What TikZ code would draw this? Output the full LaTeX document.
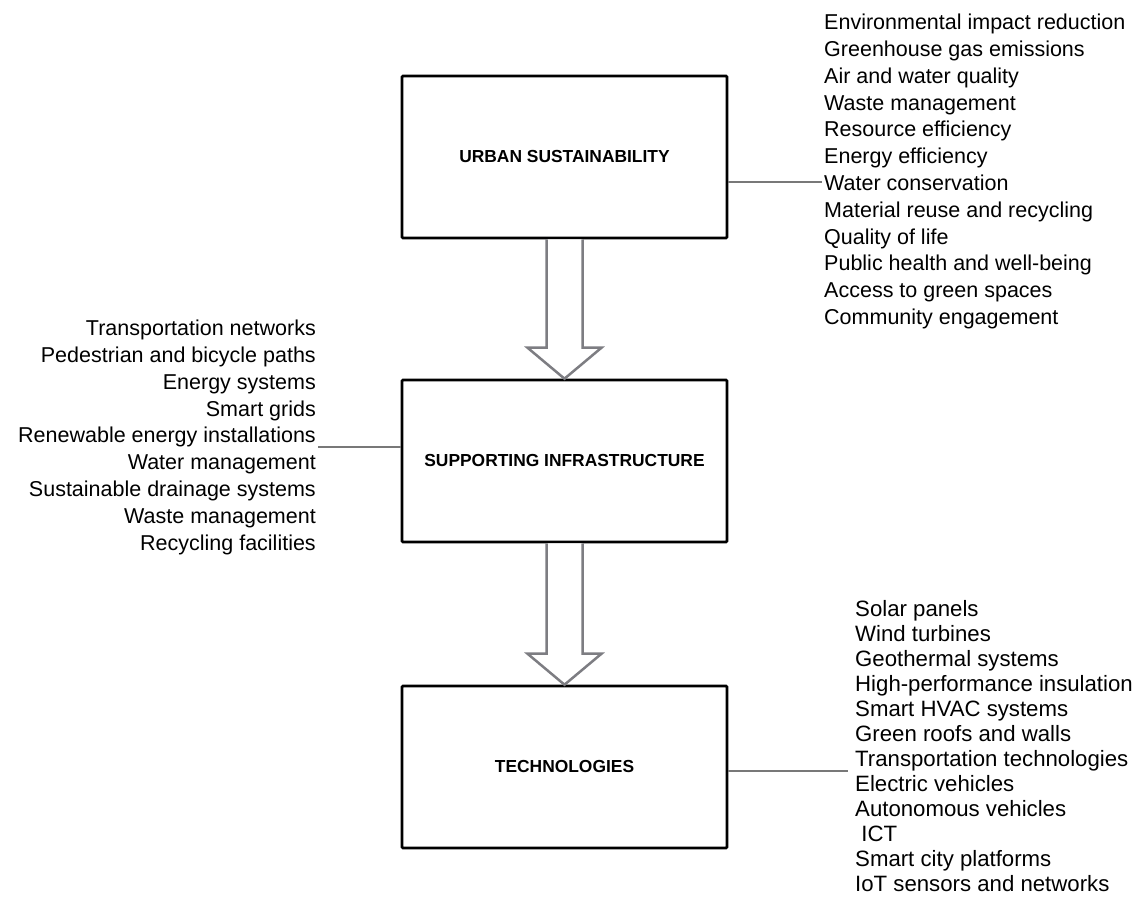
\documentclass[tikz,border=0pt]{standalone}
\usepackage{fontspec}
\setmainfont{Liberation Sans}
\usetikzlibrary{calc}
\definecolor{linkgray}{RGB}{120,120,120}
\definecolor{arrowgray}{RGB}{125,125,130}
\begin{document}
\begin{tikzpicture}[x=1pt,y=-1pt,
  stage/.style={draw=black, fill=white, line width=2.6pt, rounded corners=1pt,
    minimum width=325pt, minimum height=162pt, inner sep=0pt,
    font=\fontsize{17.4}{20}\selectfont\bfseries},
  itemlist/.style={inner sep=0pt, font=\fontsize{21.5}{26.8}\selectfont},
  link/.style={draw=linkgray, line width=2pt},
  flow/.style={draw=arrowgray, line width=2.5pt, fill=white, line join=miter}
]
\useasboundingbox (0,0) rectangle (1137,912);

% the three stages
\node[stage] (us)   at (564.5,157) {URBAN SUSTAINABILITY};
\node[stage] (inf)  at (564.5,461) {SUPPORTING INFRASTRUCTURE};
\node[stage] (tech) at (564.5,767) {TECHNOLOGIES};

% block arrows between the stages
\draw[flow] ($(us.south)+(-18,0)$) -- ($(inf.north)+(-18,-31)$) -- ($(inf.north)+(-37,-31)$)
  -- (inf.north) -- ($(inf.north)+(37,-31)$) -- ($(inf.north)+(18,-31)$) -- ($(us.south)+(18,0)$);
\draw[flow] ($(inf.south)+(-18,0)$) -- ($(tech.north)+(-18,-31)$) -- ($(tech.north)+(-37,-31)$)
  -- (tech.north) -- ($(tech.north)+(37,-31)$) -- ($(tech.north)+(18,-31)$) -- ($(inf.south)+(18,0)$);

% item lists
\node[itemlist, anchor=north west, align=left] (usl) at (824,14) {%
Environmental impact reduction\\
Greenhouse gas emissions\\
Air and water quality\\
Waste management\\
Resource efficiency\\
Energy efficiency\\
Water conservation\\
Material reuse and recycling\\
Quality of life\\
Public health and well-being\\
Access to green spaces\\
Community engagement};

\node[itemlist, anchor=north east, align=right] (infl) at (316,320) {%
Transportation networks\\
Pedestrian and bicycle paths\\
Energy systems\\
Smart grids\\
Renewable energy installations\\
Water management\\
Sustainable drainage systems\\
Waste management\\
Recycling facilities};

\node[itemlist, anchor=north west, align=left, font=\fontsize{22.2}{25}\selectfont] (techl) at (855,600) {%
Solar panels\\
Wind turbines\\
Geothermal systems\\
High-performance insulation\\
Smart HVAC systems\\
Green roofs and walls\\
Transportation technologies\\
Electric vehicles\\
Autonomous vehicles\\
\ ICT\\
Smart city platforms\\
IoT sensors and networks};

% connectors from the stages to their lists
\coordinate (usjoin) at (822,182);
\coordinate (infjoin) at (318,447);
\coordinate (techjoin) at (848,771);
\draw[link] (us.east |- usjoin) -- (usjoin);
\draw[link] (inf.west |- infjoin) -- (infjoin);
\draw[link] (tech.east |- techjoin) -- (techjoin);
\end{tikzpicture}
\end{document}
